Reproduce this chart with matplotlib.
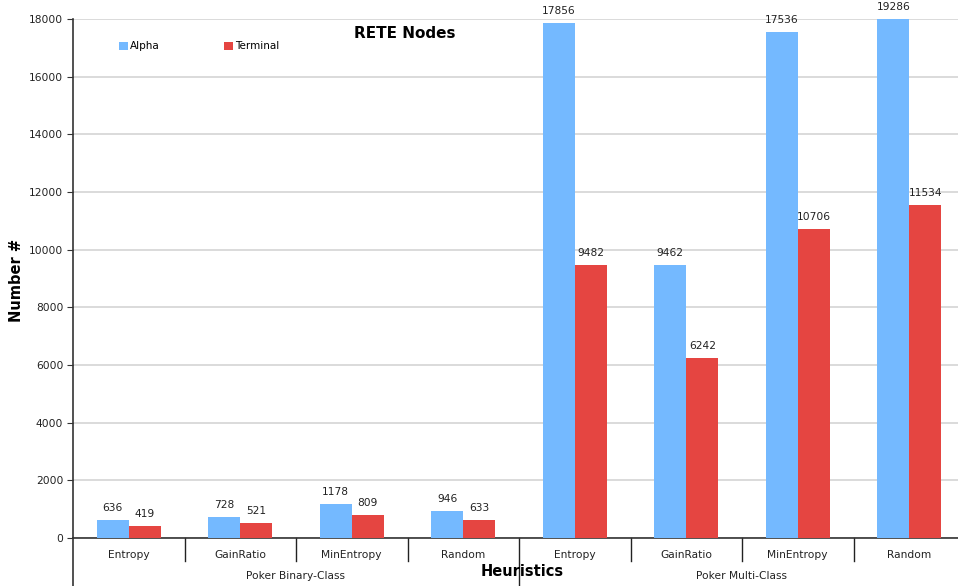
import matplotlib
matplotlib.use("Agg")
import matplotlib.pyplot as plt
import matplotlib.transforms as mtransforms

heuristics = ["Entropy", "GainRatio", "MinEntropy", "Random",
              "Entropy", "GainRatio", "MinEntropy", "Random"]
datasets = ["Poker Binary-Class", "Poker Multi-Class"]
alpha_nodes = [636, 728, 1178, 946, 17856, 9462, 17536, 19286]
terminal_nodes = [419, 521, 809, 633, 9482, 6242, 10706, 11534]

blue = "#74b9ff"
red = "#e54541"
ymax = 18000

W, H = 958, 586
fig = plt.figure(figsize=(W / 100, H / 100), dpi=100)
left, right, top, bottom = 73, 965, 19, 538
ax = fig.add_axes([left / W, 1 - bottom / H, (right - left) / W, (bottom - top) / H])

bw = 0.287
centers = [i + 0.5 for i in range(len(heuristics))]
ax.bar([c - bw / 2 for c in centers], alpha_nodes, bw, color=blue, label="Alpha", zorder=3)
ax.bar([c + bw / 2 for c in centers], terminal_nodes, bw, color=red, label="Terminal", zorder=3)

# value labels above each bar (tall bars are cut at the top of the axis)
for c, a, t in zip(centers, alpha_nodes, terminal_nodes):
    ax.annotate(str(a), (c - bw / 2, min(a, ymax)), xytext=(0, 5), textcoords="offset points",
                ha="center", va="bottom", fontsize=7.7, color="#222222", annotation_clip=False)
    ax.annotate(str(t), (c + bw / 2, min(t, ymax)), xytext=(0, 5), textcoords="offset points",
                ha="center", va="bottom", fontsize=7.7, color="#222222", annotation_clip=False)

ax.set_xlim(0, len(heuristics))
ax.set_ylim(0, ymax)
ax.set_yticks(range(0, ymax + 1, 2000))
ax.yaxis.grid(True, color="#d4d4d4", linewidth=1.2, zorder=0)
ax.tick_params(axis="y", direction="out", length=4, color="#333333", labelsize=7.7,
               labelcolor="#222222", pad=3)
ax.set_xticks(centers)
ax.set_xticklabels(heuristics, fontsize=7.7, color="#222222")
ax.tick_params(axis="x", length=0, pad=9)

for s in ["top", "right"]:
    ax.spines[s].set_visible(False)
ax.spines["left"].set_color("#333333")
ax.spines["bottom"].set_color("#333333")
ax.spines["left"].set_linewidth(1.2)
ax.spines["bottom"].set_linewidth(1.2)

# category separators below the axis
trans = mtransforms.blended_transform_factory(ax.transData, ax.transAxes)
px = 1.0 / (bottom - top)
for i in range(1, len(heuristics)):
    depth = 48 if i == 4 else 23
    ax.plot([i, i], [0, -depth * px], color="#222222", lw=1, transform=trans, clip_on=False)
ax.plot([0, 0], [0, -48 * px], color="#333333", lw=1.2, transform=trans, clip_on=False)

for j, name in enumerate(datasets):
    ax.text(j * 4 + 2, -38 * px, name, transform=trans, ha="center", va="center",
            fontsize=7.7, color="#222222")

ax.text(0.372, 0.973, "RETE Nodes", transform=ax.transAxes, ha="center", va="center",
        fontsize=11, fontweight="bold")
fig.text(522 / W, 1 - 572 / H, "Heuristics", ha="center", va="center",
         fontsize=10.5, fontweight="bold")
fig.text(17 / W, 1 - 280 / H, "Number #", ha="center", va="center", rotation=90,
         fontsize=10.5, fontweight="bold")

ax.legend(loc="upper left", bbox_to_anchor=(0.041, 0.975), ncol=2, frameon=False,
          fontsize=7.5, handlelength=0.85, handleheight=0.85, handletextpad=0.2,
          columnspacing=6.2)

fig.savefig("out.png", dpi=100)
